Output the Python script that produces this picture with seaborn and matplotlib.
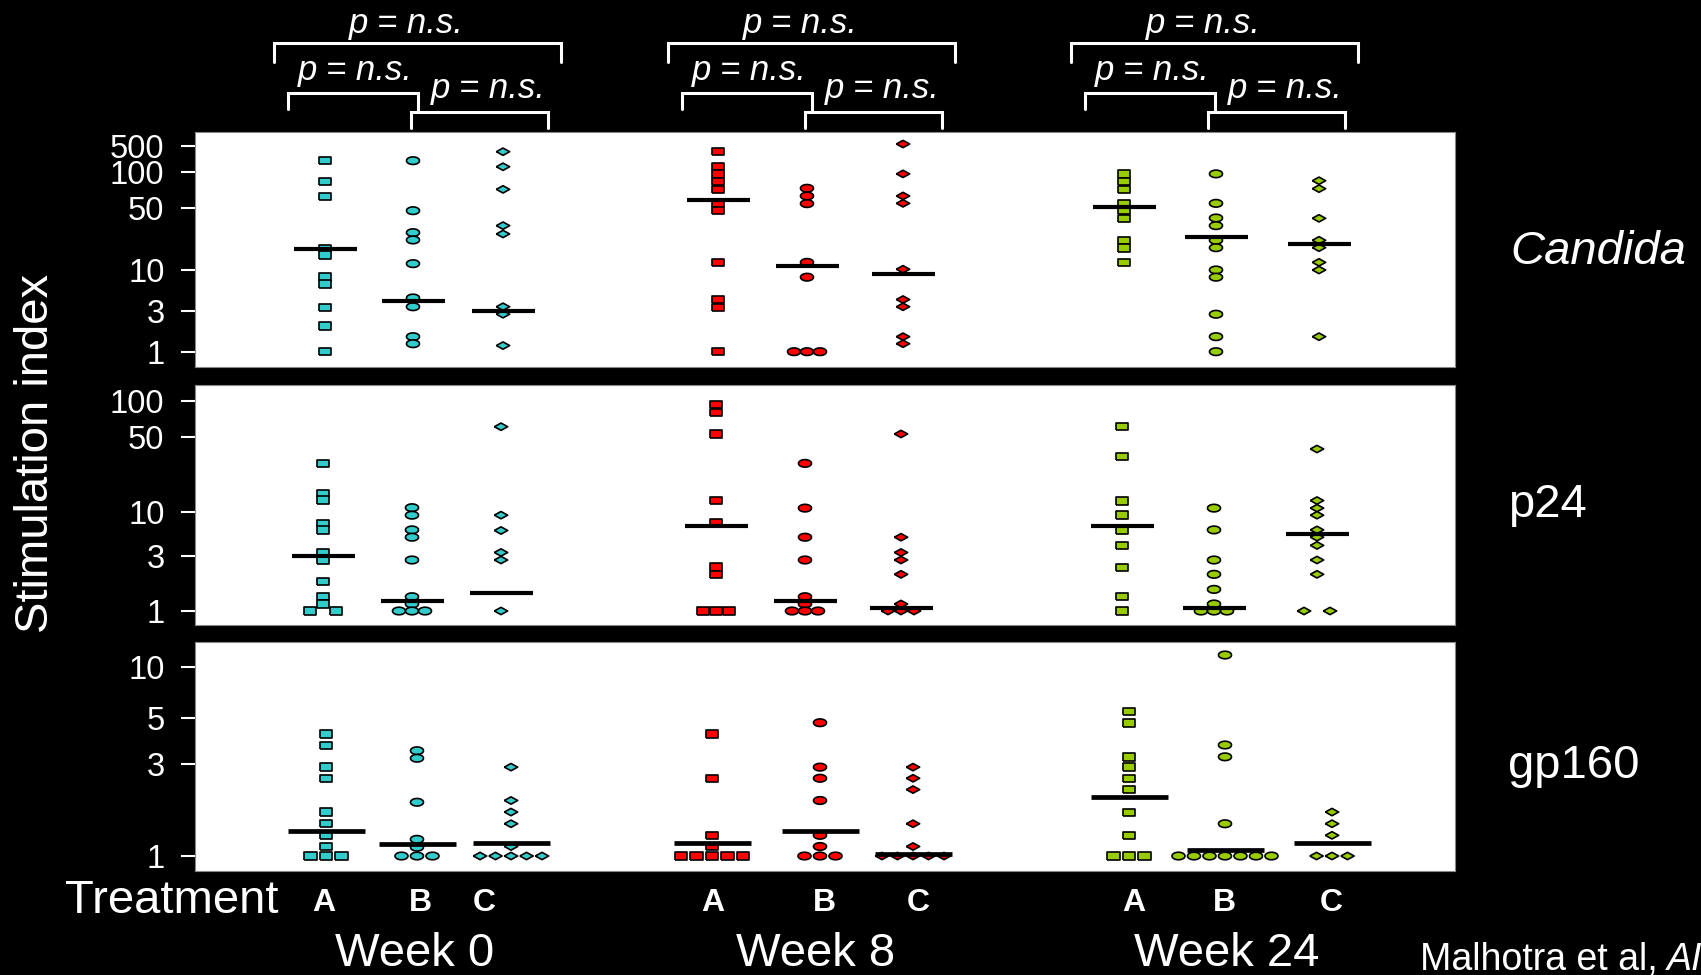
import numpy as np
import pandas as pd
import matplotlib
matplotlib.use('Agg')
import matplotlib.pyplot as plt
import seaborn as sns

sns.set_style('ticks')
plt.rcParams['font.family'] = ['Liberation Sans', 'DejaVu Sans']

# ---- values (stimulation index) ----
weeks = ['Week 0', 'Week 8', 'Week 24']
treatments = ['A', 'B', 'C']
antigens = ['Candida', 'p24', 'gp160']

# each variable: [A, B, C] for one week
candida_w0 = [[202, 84, 63, 17.6, 14.8, 8.1, 6.6, 3.3, 2.0, 1],
              [202, 47, 26.5, 21.9, 11.8, 4.4, 3.4, 1.5, 1.24],
              [348, 140, 72, 31.8, 25.6, 3.4, 2.75, 1.18]]
candida_w8 = [[348, 140, 97, 84, 72, 55, 47, 12.1, 4.2, 3.3, 1],
              [73.5, 63.4, 54.7, 12.2, 8.1, 1, 1, 1],
              [554, 97, 63.4, 55, 10.2, 4.2, 3.4, 1.5, 1.24]]
candida_w24 = [[97, 84, 72, 55, 47, 38.5, 21.7, 17.7, 12.1],
               [97, 55, 38.8, 31.8, 21.7, 17.9, 10, 8.1, 2.75, 1.5, 1],
               [85, 73, 38.5, 21.7, 17.9, 12.2, 10, 1.5]]
candida_med = [17.2, 4.0, 2.98, 58.6, 11.0, 9.0, 51.3, 23.8, 19.7]

p24_w0 = [[28, 14.8, 12.8, 7.3, 6.1, 3.3, 2.77, 1.8, 1.33, 1.15, 1, 1],
          [10.9, 9.1, 6.1, 5.0, 2.77, 1.33, 1.15, 1, 1, 1],
          [60.6, 9.1, 6.0, 3.3, 2.77, 1]]
p24_w8 = [[93, 80, 52.7, 12.7, 7.5, 2.41, 2.08, 1, 1, 1],
          [28.2, 10.8, 5.0, 2.77, 1.33, 1.15, 1, 1, 1],
          [52.7, 5.0, 3.3, 2.77, 2.08, 1.15, 1, 1, 1]]
p24_w24 = [[60.6, 32.6, 12.6, 9.1, 6.1, 4.0, 2.39, 1.33, 1],
           [10.8, 6.1, 2.77, 2.08, 1.54, 1.15, 1, 1, 1],
           [38.4, 12.7, 10.8, 9.1, 6.1, 5.0, 4.0, 2.77, 2.08, 1, 1]]
p24_med = [3.0, 1.23, 1.42, 6.7, 1.23, 1.07, 6.7, 1.07, 5.5]

gp160_w0 = [[4.2, 3.7, 2.89, 2.53, 1.69, 1.47, 1.28, 1.12, 1, 1, 1],
            [3.48, 3.2, 1.9, 1.22, 1.11, 1, 1, 1],
            [2.89, 1.94, 1.69, 1.47, 1.12, 1, 1, 1, 1, 1]]
gp160_w8 = [[4.2, 2.53, 1.28, 1.12, 1, 1, 1, 1, 1],
            [4.76, 2.89, 2.53, 1.94, 1.28, 1.12, 1, 1, 1],
            [2.89, 2.53, 2.21, 1.47, 1.12, 1, 1, 1, 1, 1]]
gp160_w24 = [[5.47, 4.74, 3.25, 2.89, 2.53, 2.21, 1.68, 1.28, 1, 1, 1],
             [11.7, 3.71, 3.25, 1.47, 1, 1, 1, 1, 1, 1, 1],
             [1.69, 1.47, 1.28, 1, 1, 1]]
gp160_med = [1.34, 1.16, 1.17, 1.17, 1.34, 1.02, 2.02, 1.075, 1.17]

candida_ticks = [1, 3, 10, 50, 100, 500]
p24_ticks = [1, 3, 10, 50, 100]
gp160_ticks = [1, 3, 5, 10]

# ---- layout (figure pixels, 1701 x 975) ----
W, H = 1701, 975
x_left, x_right = 195, 1455
panel_rows = [(132, 367), (385, 625), (642, 871)]
# where each tick label sits on the original hand-drawn axis
tick_rows = [[351.7, 311, 270, 208.3, 172.3, 145.7],
             [611, 556, 511.7, 436.7, 400.7],
             [856, 764, 718.3, 666.7]]
col_x = [[325, 413, 503, 718, 807, 903, 1124, 1216, 1319],
         [323, 412, 501, 716, 805, 901, 1122, 1214, 1317],
         [326, 417, 511, 712, 820, 913, 1129, 1225, 1332]]
tie_gap = [13, 13, 15.5]
med_half = [31.5, 31.5, 38.5]
med_lw = [3.0, 3.0, 3.4]
label_x = [324, 420, 484, 713, 824, 918, 1134, 1224, 1331]

week_colors = {'Week 0': '#33CCCC', 'Week 8': '#FF0000', 'Week 24': '#99CC00'}

theta = np.linspace(0, 2 * np.pi, 41)
markers = {
    'A': [(-1, -0.6), (1, -0.6), (1, 0.6), (-1, 0.6), (-1, -0.6)],
    'B': list(zip(np.cos(theta), 0.58 * np.sin(theta))),
    'C': [(-1, 0), (0, 0.55), (1, 0), (0, -0.55), (-1, 0)],
}
marker_size = {'A': 80, 'B': 88, 'C': 92}


def spread(vals, gap):
    # tied values are laid side by side, as in the original dot plot
    vals = np.asarray(vals, float)
    off = np.zeros(len(vals))
    for v in np.unique(vals):
        idx = np.where(vals == v)[0]
        n = len(idx)
        if n == 1:
            continue
        if n % 2:
            k = np.arange(n) - (n - 1) / 2
        else:
            k = np.arange(n) - n / 2
            k[k >= 0] += 1
        off[idx] = k * gap
    return off


def hand_scale(vals, rows):
    lv = np.log10(vals)
    px = -np.asarray(rows, float)
    s0 = (px[1] - px[0]) / (lv[1] - lv[0])
    s1 = (px[-1] - px[-2]) / (lv[-1] - lv[-2])
    lv_e = np.r_[lv[0] - 8, lv, lv[-1] + 8]
    px_e = np.r_[px[0] - 8 * s0, px, px[-1] + 8 * s1]

    def fwd(y):
        y = np.clip(np.asarray(y, float), 1e-7, None)
        return np.interp(np.log10(y), lv_e, px_e)

    def inv(u):
        return 10 ** np.interp(np.asarray(u, float), px_e, lv_e)
    return fwd, inv


panel_data = [[candida_w0, candida_w8, candida_w24],
              [p24_w0, p24_w8, p24_w24],
              [gp160_w0, gp160_w8, gp160_w24]]
panel_meds = [candida_med, p24_med, gp160_med]
panel_ticks = [candida_ticks, p24_ticks, gp160_ticks]

rows = []
for p, ant in enumerate(antigens):
    for w, wk in enumerate(weeks):
        for t, tr in enumerate(treatments):
            vals = panel_data[p][w][t]
            cx = col_x[p][w * 3 + t]
            offs = spread(vals, tie_gap[p])
            for v, o in zip(vals, offs):
                rows.append({'antigen': ant, 'week': wk, 'treatment': tr,
                             'value': v, 'x': cx + o})
df = pd.DataFrame(rows)

fig = plt.figure(figsize=(W / 100, H / 100), dpi=100, facecolor='black')

# overlay in pixel units for the annotations outside the panels
ov = fig.add_axes([0, 0, 1, 1], zorder=0)
ov.set_xlim(0, W)
ov.set_ylim(H, 0)
ov.set_facecolor('none')
ov.axis('off')

for p, ant in enumerate(antigens):
    top, bot = panel_rows[p]
    ax = fig.add_axes([x_left / W, 1 - bot / H, (x_right - x_left) / W, (bot - top) / H],
                      zorder=2)
    fwd, inv = hand_scale(panel_ticks[p], tick_rows[p])
    ax.set_yscale('function', functions=(fwd, inv))
    ax.set_facecolor('white')

    sub = df[df['antigen'] == ant]
    for tr in treatments:
        s = sub[sub['treatment'] == tr]
        sns.scatterplot(data=s, x='x', y='value', hue='week', palette=week_colors,
                        marker=markers[tr], s=marker_size[tr], edgecolor='black',
                        linewidth=1.2, legend=False, ax=ax, zorder=3)

    cx = np.array(col_x[p], float)
    ax.hlines(panel_meds[p], cx - med_half[p], cx + med_half[p], color='black',
              lw=med_lw[p], zorder=4)

    ax.set_xlim(x_left, x_right)
    ax.set_ylim(inv(-bot), inv(-top))
    ax.set_yticks(panel_ticks[p])
    ax.set_yticklabels([str(v) for v in panel_ticks[p]])
    ax.yaxis.set_minor_locator(matplotlib.ticker.NullLocator())
    ax.tick_params(axis='y', colors='white', labelsize=23.5, length=10, width=1.5,
                   pad=12, direction='out')
    ax.set_xlabel('')
    ax.set_ylabel('')
    for sp in ax.spines.values():
        sp.set_color('#888888')
        sp.set_linewidth(0.8)

    if p == 2:
        ax.set_xticks(label_x)
        ax.set_xticklabels(treatments * 3, fontweight='bold')
        ax.tick_params(axis='x', colors='white', labelsize=23, length=0, pad=12)
    else:
        ax.set_xticks([])

# significance brackets
bracket_x0 = [273.5, 667.5, 1070.5]
for x0 in bracket_x0:
    d = x0 - 273.5
    ov.plot(np.array([273.5, 273.5, 560.5, 560.5]) + d, [61.7, 43.3, 43.3, 61.7],
            color='white', lw=2.2, solid_joinstyle='miter')
    ov.plot(np.array([288, 288, 417.5, 417.5]) + d, [109.3, 92.7, 92.7, 111.7],
            color='white', lw=2.2, solid_joinstyle='miter')
    ov.plot(np.array([410.5, 410.5, 548, 548]) + d, [128.3, 111.7, 111.7, 128.3],
            color='white', lw=2.2, solid_joinstyle='miter')
    for lx, ly in [(406, 33.3), (355, 80), (488, 98.3)]:
        ov.text(lx + d, ly, 'p = n.s.', color='white', fontsize=25, style='italic',
                ha='center', va='baseline')

# side and bottom labels
ov.text(36, 453, 'Stimulation index', color='white', fontsize=34, rotation=90,
        ha='center', va='center')
ov.text(1510, 264, 'Candida', color='white', fontsize=34, style='italic',
        ha='left', va='baseline')
ov.text(1508, 517, 'p24', color='white', fontsize=34, ha='left', va='baseline')
ov.text(1508, 778, 'gp160', color='white', fontsize=34, ha='left', va='baseline')
ov.text(172, 913, 'Treatment', color='white', fontsize=34, ha='center', va='baseline')
for wx, wk in zip([415, 816, 1227], weeks):
    ov.text(wx, 966, wk, color='white', fontsize=34, ha='center', va='baseline')
ov.text(1420, 970, 'Malhotra et al, ', color='white', fontsize=27, ha='left',
        va='baseline')
ov.text(1667, 970, 'AIDS', color='white', fontsize=27, style='italic', ha='left',
        va='baseline')

fig.savefig('out.png', dpi=100, facecolor='black')
